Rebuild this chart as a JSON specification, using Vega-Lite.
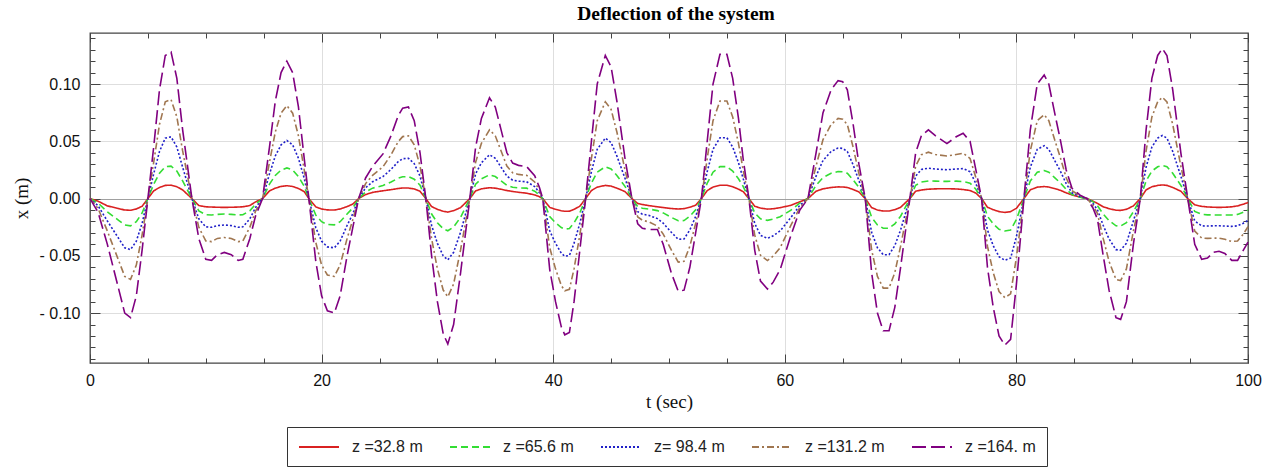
{
  "$schema": "https://vega.github.io/schema/vega-lite/v6.json",
  "width": 1158,
  "height": 330,
  "autosize": {"type": "none"},
  "padding": {"left": 90, "top": 33, "right": 25, "bottom": 104},
  "background": "white",
  "title": {"text": "Deflection of the system", "font": "Liberation Serif", "fontSize": 19.5, "fontWeight": "bold", "color": "#000", "anchor": "middle", "offset": 8, "dx": 7},
  "data": {"values": [
    {"t":0,"a":0,"b":0,"c":0,"d":0,"e":0},
    {"t":0.7,"a":-0.0023,"b":-0.0039,"c":-0.0063,"d":-0.0087,"e":-0.012},
    {"t":1.5,"a":-0.0064,"b":-0.0116,"c":-0.0196,"d":-0.0284,"e":-0.04},
    {"t":2.5,"a":-0.0088,"b":-0.0192,"c":-0.0352,"d":-0.0548,"e":-0.08},
    {"t":3,"a":-0.01,"b":-0.023,"c":-0.043,"d":-0.068,"e":-0.1},
    {"t":3.5,"a":-0.0102,"b":-0.0238,"c":-0.0446,"d":-0.0706,"e":-0.104},
    {"t":4,"a":-0.0091,"b":-0.0202,"c":-0.0372,"d":-0.0581,"e":-0.085},
    {"t":4.5,"a":-0.0067,"b":-0.0126,"c":-0.0216,"d":-0.0317,"e":-0.045},
    {"t":5,"a":0,"b":0,"c":0,"d":0,"e":0},
    {"t":5.5,"a":0.0067,"b":0.0126,"c":0.0216,"d":0.0317,"e":0.045},
    {"t":6,"a":0.0097,"b":0.0221,"c":0.0411,"d":0.0647,"e":0.095},
    {"t":6.5,"a":0.0115,"b":0.0278,"c":0.0528,"d":0.0845,"e":0.125},
    {"t":7,"a":0.0117,"b":0.0283,"c":0.0539,"d":0.0865,"e":0.128},
    {"t":7.5,"a":0.0103,"b":0.024,"c":0.045,"d":0.0713,"e":0.105},
    {"t":8,"a":0.0076,"b":0.0154,"c":0.0274,"d":0.0416,"e":0.06},
    {"t":8.8,"a":0,"b":0,"c":0,"d":0,"e":0},
    {"t":9.4,"a":-0.0061,"b":-0.0107,"c":-0.0177,"d":-0.0251,"e":-0.035},
    {"t":10,"a":-0.0072,"b":-0.0141,"c":-0.0247,"d":-0.037,"e":-0.053},
    {"t":10.5,"a":-0.0074,"b":-0.0143,"c":-0.0251,"d":-0.0376,"e":-0.054},
    {"t":11,"a":-0.0076,"b":-0.0138,"c":-0.0236,"d":-0.0348,"e":-0.049},
    {"t":11.6,"a":-0.0077,"b":-0.0135,"c":-0.0231,"d":-0.034,"e":-0.047},
    {"t":12.2,"a":-0.0076,"b":-0.0138,"c":-0.0236,"d":-0.0348,"e":-0.049},
    {"t":12.8,"a":-0.0074,"b":-0.0143,"c":-0.0251,"d":-0.0376,"e":-0.054},
    {"t":13.2,"a":-0.0072,"b":-0.0141,"c":-0.0247,"d":-0.037,"e":-0.053},
    {"t":13.8,"a":-0.0061,"b":-0.0107,"c":-0.0177,"d":-0.0251,"e":-0.035},
    {"t":14.3,"a":-0.0029,"b":-0.0048,"c":-0.0078,"d":-0.0109,"e":-0.015},
    {"t":14.9,"a":0,"b":0,"c":0,"d":0,"e":0},
    {"t":15.5,"a":0.0067,"b":0.0126,"c":0.0216,"d":0.0317,"e":0.045},
    {"t":16,"a":0.0091,"b":0.0202,"c":0.0372,"d":0.0581,"e":0.085},
    {"t":16.5,"a":0.0106,"b":0.0249,"c":0.0469,"d":0.0746,"e":0.11},
    {"t":17,"a":0.0112,"b":0.0268,"c":0.0508,"d":0.0812,"e":0.12},
    {"t":17.5,"a":0.0106,"b":0.0249,"c":0.0469,"d":0.0746,"e":0.11},
    {"t":18,"a":0.0088,"b":0.0192,"c":0.0352,"d":0.0548,"e":0.08},
    {"t":18.5,"a":0.0061,"b":0.0107,"c":0.0177,"d":0.0251,"e":0.035},
    {"t":18.9,"a":0,"b":0,"c":0,"d":0,"e":0},
    {"t":19.5,"a":-0.0073,"b":-0.0145,"c":-0.0255,"d":-0.0383,"e":-0.055},
    {"t":20,"a":-0.0091,"b":-0.0202,"c":-0.0372,"d":-0.0581,"e":-0.085},
    {"t":20.5,"a":-0.0099,"b":-0.0226,"c":-0.0422,"d":-0.0667,"e":-0.098},
    {"t":21.1,"a":-0.01,"b":-0.023,"c":-0.043,"d":-0.068,"e":-0.1},
    {"t":21.6,"a":-0.0091,"b":-0.0202,"c":-0.0372,"d":-0.0581,"e":-0.085},
    {"t":22.2,"a":-0.007,"b":-0.0135,"c":-0.0235,"d":-0.035,"e":-0.05},
    {"t":22.7,"a":-0.0048,"b":-0.0081,"c":-0.0131,"d":-0.0182,"e":-0.025},
    {"t":23.2,"a":0,"b":0,"c":0,"d":0,"e":0},
    {"t":23.8,"a":0.0035,"b":0.0058,"c":0.0094,"d":0.0131,"e":0.018},
    {"t":24.4,"a":0.0054,"b":0.0091,"c":0.0147,"d":0.0203,"e":0.028},
    {"t":25.3,"a":0.0068,"b":0.0114,"c":0.0192,"d":0.0277,"e":0.039},
    {"t":26,"a":0.0078,"b":0.0145,"c":0.0255,"d":0.0383,"e":0.055},
    {"t":26.6,"a":0.0088,"b":0.0177,"c":0.0321,"d":0.0495,"e":0.072},
    {"t":27,"a":0.0092,"b":0.019,"c":0.0348,"d":0.0541,"e":0.079},
    {"t":27.5,"a":0.0092,"b":0.0192,"c":0.0352,"d":0.0548,"e":0.08},
    {"t":28,"a":0.0084,"b":0.0169,"c":0.0305,"d":0.0469,"e":0.068},
    {"t":28.5,"a":0.0064,"b":0.0116,"c":0.0196,"d":0.0284,"e":0.04},
    {"t":29,"a":0,"b":0,"c":0,"d":0,"e":0},
    {"t":29.5,"a":-0.007,"b":-0.0135,"c":-0.0235,"d":-0.035,"e":-0.05},
    {"t":30,"a":-0.0094,"b":-0.0211,"c":-0.0391,"d":-0.0614,"e":-0.09},
    {"t":30.5,"a":-0.0111,"b":-0.0264,"c":-0.05,"d":-0.0799,"e":-0.118},
    {"t":30.9,"a":-0.0118,"b":-0.0281,"c":-0.0535,"d":-0.0858,"e":-0.127},
    {"t":31.4,"a":-0.0106,"b":-0.0249,"c":-0.0469,"d":-0.0746,"e":-0.11},
    {"t":32,"a":-0.0079,"b":-0.0164,"c":-0.0294,"d":-0.0449,"e":-0.065},
    {"t":32.8,"a":0,"b":0,"c":0,"d":0,"e":0},
    {"t":33.3,"a":0.0067,"b":0.0126,"c":0.0216,"d":0.0317,"e":0.045},
    {"t":33.8,"a":0.0085,"b":0.0173,"c":0.0313,"d":0.0482,"e":0.07},
    {"t":34.5,"a":0.0095,"b":0.0207,"c":0.0383,"d":0.0601,"e":0.088},
    {"t":35,"a":0.0091,"b":0.0192,"c":0.0352,"d":0.0548,"e":0.08},
    {"t":35.5,"a":0.0081,"b":0.0154,"c":0.0274,"d":0.0416,"e":0.06},
    {"t":36,"a":0.007,"b":0.0116,"c":0.0196,"d":0.0284,"e":0.04},
    {"t":36.5,"a":0.0062,"b":0.0099,"c":0.0161,"d":0.0225,"e":0.031},
    {"t":37,"a":0.0055,"b":0.0094,"c":0.0152,"d":0.0211,"e":0.029},
    {"t":37.7,"a":0.0047,"b":0.0091,"c":0.0147,"d":0.0203,"e":0.028},
    {"t":38.4,"a":0.0032,"b":0.0065,"c":0.0105,"d":0.0145,"e":0.02},
    {"t":38.8,"a":0.0017,"b":0.0032,"c":0.0052,"d":0.0073,"e":0.01},
    {"t":39.1,"a":0,"b":0,"c":0,"d":0,"e":0},
    {"t":39.7,"a":-0.0077,"b":-0.0158,"c":-0.0282,"d":-0.0429,"e":-0.062},
    {"t":40.2,"a":-0.0094,"b":-0.0211,"c":-0.0391,"d":-0.0614,"e":-0.09},
    {"t":40.7,"a":-0.0107,"b":-0.0253,"c":-0.0477,"d":-0.0759,"e":-0.112},
    {"t":41,"a":-0.0111,"b":-0.0266,"c":-0.0504,"d":-0.0805,"e":-0.119},
    {"t":41.4,"a":-0.011,"b":-0.0262,"c":-0.0496,"d":-0.0792,"e":-0.117},
    {"t":41.8,"a":-0.0094,"b":-0.0211,"c":-0.0391,"d":-0.0614,"e":-0.09},
    {"t":42.3,"a":-0.0067,"b":-0.0126,"c":-0.0216,"d":-0.0317,"e":-0.045},
    {"t":42.8,"a":0,"b":0,"c":0,"d":0,"e":0},
    {"t":43.3,"a":0.007,"b":0.0135,"c":0.0235,"d":0.035,"e":0.05},
    {"t":43.8,"a":0.01,"b":0.023,"c":0.043,"d":0.068,"e":0.1},
    {"t":44.5,"a":0.0115,"b":0.0278,"c":0.0528,"d":0.0845,"e":0.125},
    {"t":45,"a":0.0109,"b":0.0259,"c":0.0489,"d":0.0779,"e":0.115},
    {"t":45.5,"a":0.0091,"b":0.0202,"c":0.0372,"d":0.0581,"e":0.085},
    {"t":46.2,"a":0.0061,"b":0.0107,"c":0.0177,"d":0.0251,"e":0.035},
    {"t":46.8,"a":0,"b":0,"c":0,"d":0,"e":0},
    {"t":47.3,"a":-0.0043,"b":-0.0071,"c":-0.0115,"d":-0.016,"e":-0.022},
    {"t":47.7,"a":-0.0052,"b":-0.0084,"c":-0.0136,"d":-0.0189,"e":-0.026},
    {"t":48.3,"a":-0.0062,"b":-0.0092,"c":-0.0148,"d":-0.0205,"e":-0.027},
    {"t":49,"a":-0.0072,"b":-0.0105,"c":-0.0175,"d":-0.024,"e":-0.027},
    {"t":49.5,"a":-0.0078,"b":-0.0125,"c":-0.0215,"d":-0.031,"e":-0.04},
    {"t":50.2,"a":-0.0087,"b":-0.0164,"c":-0.0294,"d":-0.0449,"e":-0.065},
    {"t":50.8,"a":-0.0091,"b":-0.0194,"c":-0.0356,"d":-0.0555,"e":-0.081},
    {"t":51.3,"a":-0.0088,"b":-0.0192,"c":-0.0352,"d":-0.0548,"e":-0.08},
    {"t":51.8,"a":-0.0076,"b":-0.0154,"c":-0.0274,"d":-0.0416,"e":-0.06},
    {"t":52.3,"a":-0.0058,"b":-0.0097,"c":-0.0157,"d":-0.0218,"e":-0.03},
    {"t":52.8,"a":0,"b":0,"c":0,"d":0,"e":0},
    {"t":53.3,"a":0.007,"b":0.0135,"c":0.0235,"d":0.035,"e":0.05},
    {"t":53.8,"a":0.01,"b":0.023,"c":0.043,"d":0.068,"e":0.1},
    {"t":54.4,"a":0.0116,"b":0.0279,"c":0.0531,"d":0.0852,"e":0.126},
    {"t":55,"a":0.0116,"b":0.0279,"c":0.0531,"d":0.0852,"e":0.126},
    {"t":55.5,"a":0.0103,"b":0.024,"c":0.045,"d":0.0713,"e":0.105},
    {"t":56,"a":0.0082,"b":0.0173,"c":0.0313,"d":0.0482,"e":0.07},
    {"t":56.4,"a":0.0061,"b":0.0107,"c":0.0177,"d":0.0251,"e":0.035},
    {"t":56.9,"a":0,"b":0,"c":0,"d":0,"e":0},
    {"t":57.4,"a":-0.0067,"b":-0.0126,"c":-0.0216,"d":-0.0317,"e":-0.045},
    {"t":57.9,"a":-0.0083,"b":-0.0177,"c":-0.0321,"d":-0.0495,"e":-0.072},
    {"t":58.5,"a":-0.0092,"b":-0.019,"c":-0.0348,"d":-0.0541,"e":-0.079},
    {"t":59,"a":-0.0089,"b":-0.0179,"c":-0.0325,"d":-0.0502,"e":-0.073},
    {"t":59.6,"a":-0.0079,"b":-0.0158,"c":-0.0282,"d":-0.0429,"e":-0.062},
    {"t":60.5,"a":-0.006,"b":-0.0103,"c":-0.0169,"d":-0.0238,"e":-0.033},
    {"t":61.3,"a":-0.0028,"b":-0.0038,"c":-0.0058,"d":-0.0078,"e":-0.01},
    {"t":62,"a":0,"b":0,"c":0,"d":0,"e":0},
    {"t":62.7,"a":0.0064,"b":0.0116,"c":0.0196,"d":0.0284,"e":0.04},
    {"t":63.3,"a":0.0085,"b":0.0183,"c":0.0333,"d":0.0515,"e":0.075},
    {"t":64,"a":0.0097,"b":0.0221,"c":0.0411,"d":0.0647,"e":0.095},
    {"t":64.6,"a":0.0102,"b":0.0236,"c":0.0442,"d":0.07,"e":0.103},
    {"t":65,"a":0.0101,"b":0.0234,"c":0.0438,"d":0.0693,"e":0.102},
    {"t":65.4,"a":0.0097,"b":0.0221,"c":0.0411,"d":0.0647,"e":0.095},
    {"t":65.9,"a":0.0079,"b":0.0164,"c":0.0294,"d":0.0449,"e":0.065},
    {"t":66.4,"a":0.0058,"b":0.0097,"c":0.0157,"d":0.0218,"e":0.03},
    {"t":66.95,"a":0,"b":0,"c":0,"d":0,"e":0},
    {"t":67.5,"a":-0.0079,"b":-0.0164,"c":-0.0294,"d":-0.0449,"e":-0.065},
    {"t":68,"a":-0.01,"b":-0.023,"c":-0.043,"d":-0.068,"e":-0.1},
    {"t":68.5,"a":-0.0109,"b":-0.0259,"c":-0.049,"d":-0.0782,"e":-0.1155},
    {"t":69,"a":-0.0109,"b":-0.0259,"c":-0.049,"d":-0.0782,"e":-0.1155},
    {"t":69.5,"a":-0.0097,"b":-0.0221,"c":-0.0411,"d":-0.0647,"e":-0.095},
    {"t":70,"a":-0.0076,"b":-0.0154,"c":-0.0274,"d":-0.0416,"e":-0.06},
    {"t":70.8,"a":0,"b":0,"c":0,"d":0,"e":0},
    {"t":71.3,"a":0.0064,"b":0.0116,"c":0.0196,"d":0.0284,"e":0.04},
    {"t":71.8,"a":0.0075,"b":0.0145,"c":0.0255,"d":0.0383,"e":0.055},
    {"t":72.4,"a":0.0082,"b":0.0154,"c":0.0265,"d":0.0405,"e":0.06},
    {"t":73,"a":0.0085,"b":0.0152,"c":0.0258,"d":0.0385,"e":0.055},
    {"t":74,"a":0.0086,"b":0.015,"c":0.0252,"d":0.0372,"e":0.048},
    {"t":74.8,"a":0.0084,"b":0.0152,"c":0.0258,"d":0.0385,"e":0.054},
    {"t":75.4,"a":0.0079,"b":0.0148,"c":0.0262,"d":0.0396,"e":0.057},
    {"t":76,"a":0.007,"b":0.0135,"c":0.0235,"d":0.035,"e":0.05},
    {"t":76.5,"a":0.0048,"b":0.0081,"c":0.0131,"d":0.0182,"e":0.025},
    {"t":77,"a":0,"b":0,"c":0,"d":0,"e":0},
    {"t":77.5,"a":-0.0076,"b":-0.0154,"c":-0.0274,"d":-0.0416,"e":-0.06},
    {"t":78,"a":-0.0097,"b":-0.0221,"c":-0.0411,"d":-0.0647,"e":-0.095},
    {"t":78.5,"a":-0.0114,"b":-0.0268,"c":-0.0508,"d":-0.0812,"e":-0.12},
    {"t":79,"a":-0.0121,"b":-0.0283,"c":-0.0539,"d":-0.0865,"e":-0.128},
    {"t":79.5,"a":-0.0114,"b":-0.0274,"c":-0.052,"d":-0.0832,"e":-0.123},
    {"t":80,"a":-0.0085,"b":-0.0183,"c":-0.0333,"d":-0.0515,"e":-0.075},
    {"t":80.65,"a":0,"b":0,"c":0,"d":0,"e":0},
    {"t":81.2,"a":0.0076,"b":0.0154,"c":0.0274,"d":0.0416,"e":0.06},
    {"t":81.8,"a":0.01,"b":0.023,"c":0.043,"d":0.068,"e":0.1},
    {"t":82.4,"a":0.0105,"b":0.0245,"c":0.0461,"d":0.0733,"e":0.108},
    {"t":82.8,"a":0.0101,"b":0.023,"c":0.043,"d":0.068,"e":0.1},
    {"t":83.3,"a":0.0088,"b":0.0183,"c":0.0333,"d":0.0515,"e":0.075},
    {"t":83.8,"a":0.0072,"b":0.0137,"c":0.0239,"d":0.0357,"e":0.051},
    {"t":84.3,"a":0.005,"b":0.0081,"c":0.0131,"d":0.0182,"e":0.025},
    {"t":84.8,"a":0.0032,"b":0.0035,"c":0.005,"d":0.0068,"e":0.009},
    {"t":85.5,"a":0.0012,"b":0.0012,"c":0.0018,"d":0.0024,"e":0.003},
    {"t":86.1,"a":0,"b":0,"c":0,"d":0,"e":0},
    {"t":86.6,"a":-0.0022,"b":-0.0026,"c":-0.0042,"d":-0.0058,"e":-0.008},
    {"t":87,"a":-0.0042,"b":-0.0062,"c":-0.0098,"d":-0.0131,"e":-0.018},
    {"t":87.5,"a":-0.0072,"b":-0.0135,"c":-0.0235,"d":-0.035,"e":-0.05},
    {"t":88,"a":-0.0088,"b":-0.0192,"c":-0.0352,"d":-0.0548,"e":-0.08},
    {"t":88.6,"a":-0.0102,"b":-0.0238,"c":-0.0446,"d":-0.0706,"e":-0.104},
    {"t":89,"a":-0.0103,"b":-0.024,"c":-0.0451,"d":-0.0716,"e":-0.1055},
    {"t":89.5,"a":-0.0094,"b":-0.0211,"c":-0.0391,"d":-0.0614,"e":-0.09},
    {"t":90.1,"a":-0.0064,"b":-0.0116,"c":-0.0196,"d":-0.0284,"e":-0.04},
    {"t":90.7,"a":0,"b":0,"c":0,"d":0,"e":0},
    {"t":91.2,"a":0.0076,"b":0.0154,"c":0.0274,"d":0.0416,"e":0.06},
    {"t":91.7,"a":0.0103,"b":0.024,"c":0.045,"d":0.0713,"e":0.105},
    {"t":92.2,"a":0.0115,"b":0.0278,"c":0.0528,"d":0.0845,"e":0.125},
    {"t":92.6,"a":0.0119,"b":0.0289,"c":0.0551,"d":0.0885,"e":0.131},
    {"t":93,"a":0.0115,"b":0.0278,"c":0.0528,"d":0.0845,"e":0.125},
    {"t":93.5,"a":0.0097,"b":0.0221,"c":0.0411,"d":0.0647,"e":0.095},
    {"t":94.2,"a":0.0064,"b":0.0116,"c":0.0196,"d":0.0284,"e":0.04},
    {"t":94.8,"a":0,"b":0,"c":0,"d":0,"e":0},
    {"t":95.4,"a":-0.0055,"b":-0.0112,"c":-0.0196,"d":-0.0284,"e":-0.04},
    {"t":96,"a":-0.0068,"b":-0.0138,"c":-0.0238,"d":-0.0345,"e":-0.053},
    {"t":96.5,"a":-0.0073,"b":-0.0142,"c":-0.024,"d":-0.0348,"e":-0.052},
    {"t":97,"a":-0.0076,"b":-0.0143,"c":-0.0238,"d":-0.0345,"e":-0.047},
    {"t":97.5,"a":-0.0077,"b":-0.0143,"c":-0.0238,"d":-0.0345,"e":-0.046},
    {"t":98,"a":-0.0076,"b":-0.0143,"c":-0.024,"d":-0.0355,"e":-0.048},
    {"t":98.6,"a":-0.0072,"b":-0.0143,"c":-0.0243,"d":-0.0375,"e":-0.054},
    {"t":99.1,"a":-0.0064,"b":-0.0138,"c":-0.0238,"d":-0.037,"e":-0.054},
    {"t":99.6,"a":-0.0049,"b":-0.0118,"c":-0.0215,"d":-0.031,"e":-0.045},
    {"t":100,"a":-0.0035,"b":-0.0101,"c":-0.019,"d":-0.0245,"e":-0.038}
  ]},
  "transform": [{"fold": ["a", "b", "c", "d", "e"], "as": ["z", "x"]}],
  "layer": [
    {
      "mark": {"type": "line", "strokeWidth": 1.6},
      "encoding": {
        "x": {
          "field": "t", "type": "quantitative",
          "scale": {"domain": [0, 100], "nice": false},
          "axis": {
            "orient": "bottom",
            "values": [0,5,10,15,20,25,30,35,40,45,50,55,60,65,70,75,80,85,90,95,100],
            "labelExpr": "datum.value % 20 === 0 ? datum.label : ''",
            "labelFlush": false,
            "tickSize": {"condition": {"test": "datum.value % 20 === 0", "value": -9}, "value": -5},
            "grid": true,
            "gridColor": "#dedede",
            "gridOpacity": {"condition": {"test": "datum.value % 20 === 0 && datum.value > 0 && datum.value < 100", "value": 1}, "value": 0},
            "domain": false,
            "tickColor": "#444",
            "tickWidth": 1,
            "labelFont": "Liberation Sans",
            "labelFontSize": 16,
            "labelColor": "#111",
            "labelPadding": 18,
            "title": "t (sec)",
            "titleFont": "Liberation Serif",
            "titleFontSize": 19,
            "titleFontWeight": "normal",
            "titleColor": "#111",
            "titlePadding": 4
          }
        },
        "y": {
          "field": "x", "type": "quantitative",
          "scale": {"domain": [-0.1436, 0.1446], "nice": false, "zero": false},
          "axis": {
            "orient": "left",
            "values": [-0.14,-0.13,-0.12,-0.11,-0.1,-0.09,-0.08,-0.07,-0.06,-0.05,-0.04,-0.03,-0.02,-0.01,0,0.01,0.02,0.03,0.04,0.05,0.06,0.07,0.08,0.09,0.1,0.11,0.12,0.13,0.14],
            "labelExpr": "abs(datum.value*20 - round(datum.value*20)) < 0.001 ? (datum.value < -0.0001 ? '- ' + format(-datum.value, '.2f') : format(datum.value, '.2f')) : ''",
            "labelFlush": false,
            "tickSize": {"condition": {"test": "abs(datum.value*20 - round(datum.value*20)) < 0.001", "value": -10}, "value": -5},
            "grid": true,
            "gridColor": {"condition": {"test": "abs(datum.value) < 0.0001", "value": "#a0a0a0"}, "value": "#dedede"},
            "gridOpacity": {"condition": {"test": "abs(datum.value*20 - round(datum.value*20)) < 0.001", "value": 1}, "value": 0},
            "domain": false,
            "tickColor": "#444",
            "tickWidth": 1,
            "labelFont": "Liberation Sans",
            "labelFontSize": 16,
            "labelColor": "#111",
            "labelPadding": 20,
            "title": "x (m)",
            "titleFont": "Liberation Serif",
            "titleFontSize": 19,
            "titleFontWeight": "normal",
            "titleColor": "#111",
            "titlePadding": 8
          }
        },
        "color": {
          "field": "z", "type": "nominal",
          "scale": {"domain": ["a", "b", "c", "d", "e"], "range": ["#d92121", "#33dd33", "#2020c8", "#a07650", "#800080"]},
          "legend": {
            "orient": "none", "legendX": 197, "legendY": 394, "direction": "horizontal", "title": null,
            "symbolType": "M-1,0H4", "symbolSize": 256, "symbolStrokeWidth": 1.8,
            "labelFont": "Liberation Sans", "labelFontSize": 16, "labelColor": "#222",
            "labelOffset": 36, "columnPadding": 23, "strokeColor": "#333", "padding": 11,
            "labelExpr": "datum.label === 'a' ? 'z =32.8 m' : datum.label === 'b' ? 'z =65.6 m' : datum.label === 'c' ? 'z= 98.4 m' : datum.label === 'd' ? 'z =131.2 m' : 'z =164. m'"
          }
        },
        "strokeDash": {
          "field": "z", "type": "nominal",
          "scale": {"domain": ["a", "b", "c", "d", "e"], "range": [[1, 0], [7, 4], [2, 2], [7, 3, 2, 3], [14, 5]]},
          "legend": {
            "orient": "none", "legendX": 197, "legendY": 394, "direction": "horizontal", "title": null,
            "symbolType": "M-1,0H4", "symbolSize": 256, "symbolStrokeWidth": 1.8,
            "labelFont": "Liberation Sans", "labelFontSize": 16, "labelColor": "#222",
            "labelOffset": 36, "columnPadding": 23, "strokeColor": "#333", "padding": 11,
            "labelExpr": "datum.label === 'a' ? 'z =32.8 m' : datum.label === 'b' ? 'z =65.6 m' : datum.label === 'c' ? 'z= 98.4 m' : datum.label === 'd' ? 'z =131.2 m' : 'z =164. m'"
          }
        }
      }
    },
    {
      "mark": {"type": "point", "opacity": 0},
      "encoding": {
        "x": {
          "field": "t", "type": "quantitative",
          "axis": {
            "orient": "top",
            "values": [0,5,10,15,20,25,30,35,40,45,50,55,60,65,70,75,80,85,90,95,100],
            "labels": false,
            "tickSize": {"condition": {"test": "datum.value % 20 === 0", "value": -9}, "value": -5},
            "grid": false, "domain": false, "tickColor": "#444", "title": null
          }
        },
        "y": {
          "field": "x", "type": "quantitative",
          "axis": {
            "orient": "right",
            "values": [-0.14,-0.13,-0.12,-0.11,-0.1,-0.09,-0.08,-0.07,-0.06,-0.05,-0.04,-0.03,-0.02,-0.01,0,0.01,0.02,0.03,0.04,0.05,0.06,0.07,0.08,0.09,0.1,0.11,0.12,0.13,0.14],
            "labels": false,
            "tickSize": {"condition": {"test": "abs(datum.value*20 - round(datum.value*20)) < 0.001", "value": -10}, "value": -5},
            "grid": false, "domain": false, "tickColor": "#444", "title": null
          }
        }
      }
    }
  ],
  "resolve": {"axis": {"x": "independent", "y": "independent"}},
  "config": {
    "view": {"stroke": "#444", "strokeWidth": 1.3}
  }
}
